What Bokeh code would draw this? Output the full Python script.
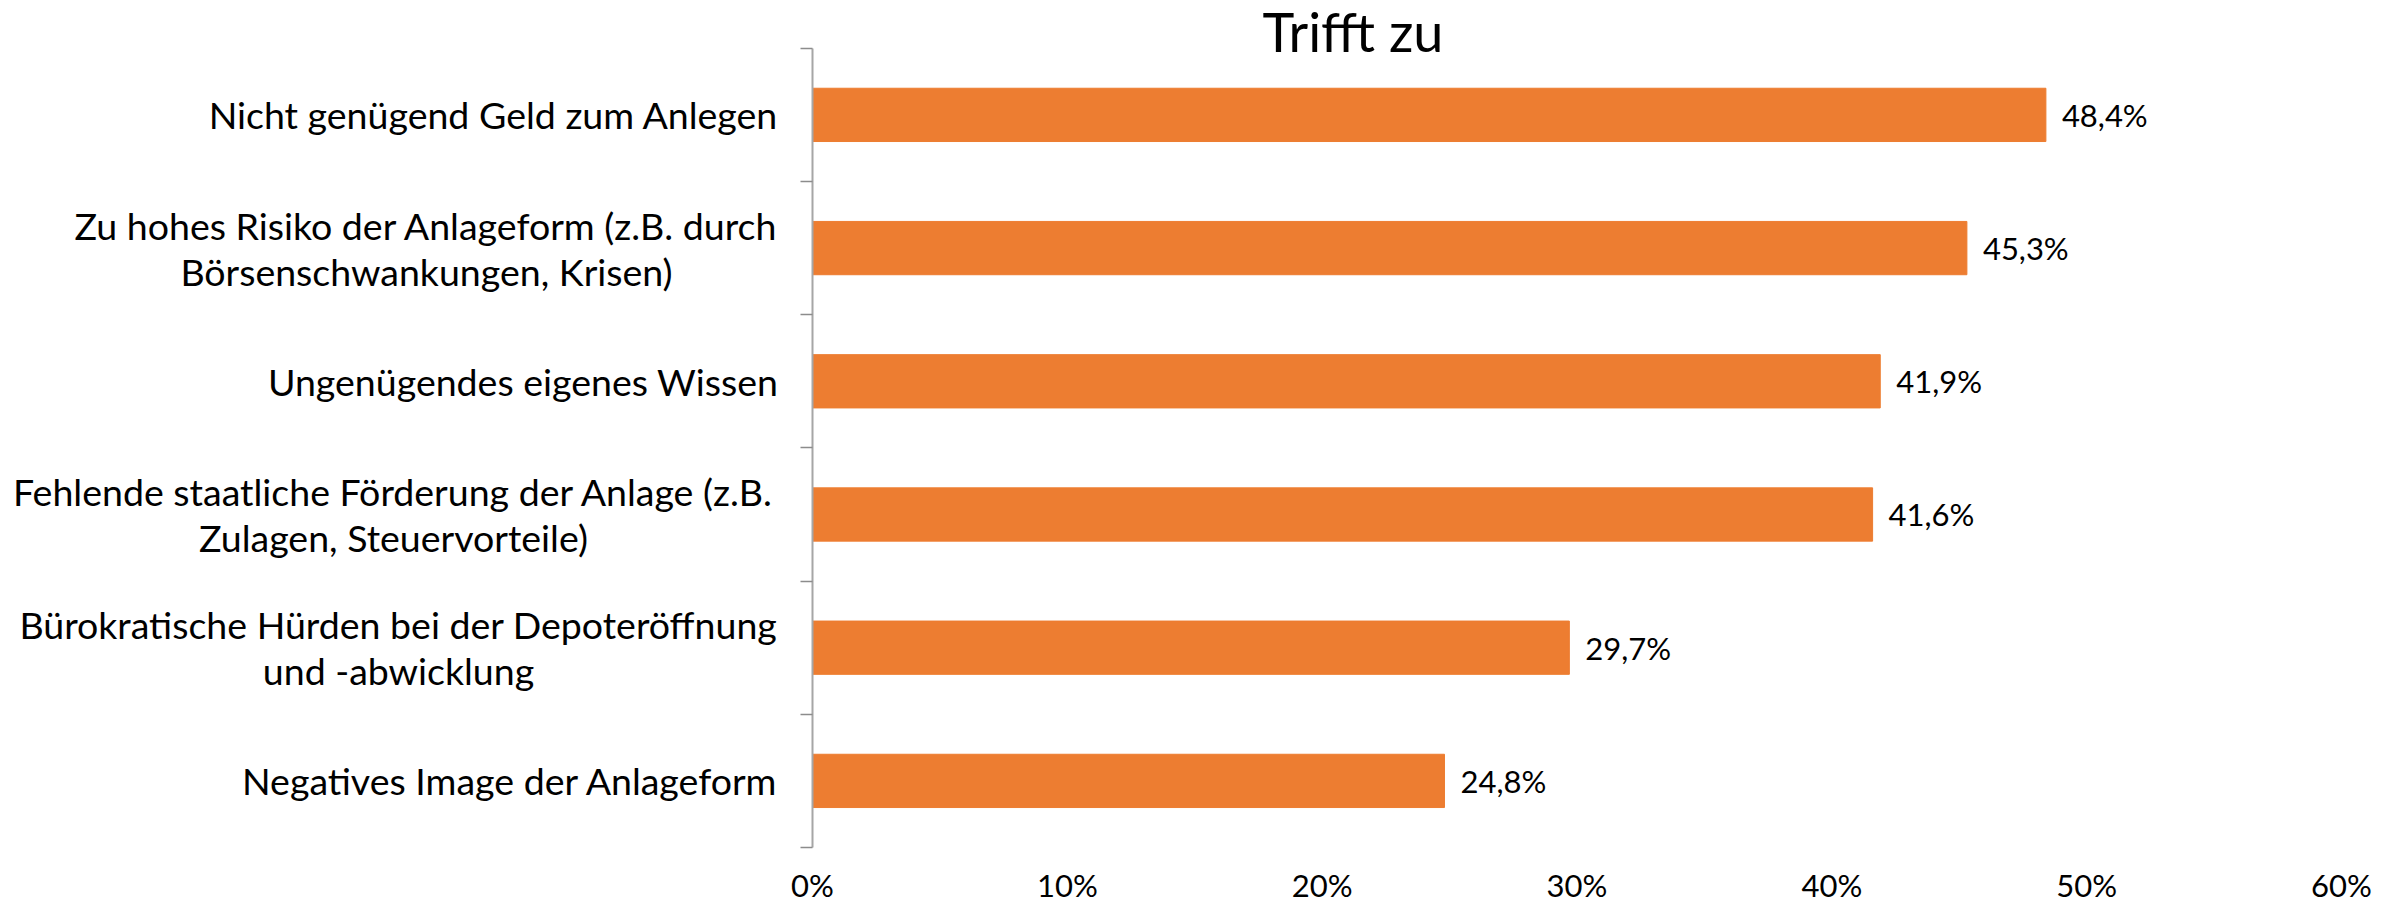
from bokeh.plotting import figure
from bokeh.models import Range1d, FixedTicker, PrintfTickFormatter, Label, ColumnDataSource
from bokeh.embed import file_html
from bokeh.resources import INLINE
from bokeh.core.properties import value

# ---------------- data ----------------
title_text = "Trifft zu"
categories = [
    "Nicht genügend Geld zum Anlegen",
    "Zu hohes Risiko der Anlageform (z.B. durch\nBörsenschwankungen, Krisen)",
    "Ungenügendes eigenes Wissen",
    "Fehlende staatliche Förderung der Anlage (z.B.\nZulagen, Steuervorteile)",
    "Bürokratische Hürden bei der Depoteröffnung\nund -abwicklung",
    "Negatives Image der Anlageform",
]
values = [48.4, 45.3, 41.9, 41.6, 29.7, 24.8]
x_ticks = [0, 10, 20, 30, 40, 50, 60]

# ---------------- layout (pixels) ----------------
W, H = 2399, 906
AXIS_X, AXIS_RIGHT = 812, 2341     # x pixel of 0% and 60%
AXIS_TOP, AXIS_BOTTOM = 48, 851    # y pixel of category band top / bottom
UNIT_Y = (AXIS_BOTTOM - AXIS_TOP) / len(categories)
UNIT_X = (AXIS_RIGHT - AXIS_X) / x_ticks[-1]
LABEL_RIGHT = -34                                  # right edge of one-line labels
WRAP_CENTER = {1: -386, 3: -419, 4: -414}          # centre of wrapped labels
TITLE_X, TITLE_Y = 1352.5, 31                      # title centre

FONT = "Lato"
ORANGE = "#ED7D31"
GRAY = "#A6A6A6"
TICK_GRAY = "#8C8C8C"

n = len(categories)
ys = [n - 0.5 - i for i in range(n)]
src = ColumnDataSource(dict(
    y=ys,
    v=values,
    lbl=[("%.1f" % v).replace(".", ",") + "%" for v in values],
))
cat_src = ColumnDataSource(dict(
    y=ys,
    x=[0] * n,
    text=categories,
    xo=[WRAP_CENTER.get(i, LABEL_RIGHT) for i in range(n)],
    align=["center" if i in WRAP_CENTER else "right" for i in range(n)],
))

y_top = n + AXIS_TOP / UNIT_Y   # frame reaches the top of the canvas
p = figure(width=W, height=H, output_backend="svg", toolbar_location=None,
           x_range=Range1d(x_ticks[0], x_ticks[-1]), y_range=Range1d(0, y_top),
           min_border_left=AXIS_X, min_border_right=W - AXIS_RIGHT,
           min_border_top=0, min_border_bottom=H - AXIS_BOTTOM)
p.outline_line_color = None
p.xgrid.grid_line_color = None
p.ygrid.grid_line_color = None
p.background_fill_color = "white"
p.border_fill_color = "white"

p.hbar(y="y", left=0, right="v", height=0.4, source=src,
       fill_color=ORANGE, line_color=ORANGE)

p.text(x="v", y="y", text="lbl", source=src, x_offset=16,
       text_font=value(FONT), text_font_size="31px", text_color="black",
       text_align="left", text_baseline="middle")

# category labels (drawn unclipped next to the axis)
p.text(x="x", y="y", text="text", source=cat_src, x_offset="xo",
       text_align="align", text_baseline="middle",
       text_font=value(FONT), text_font_size="37.5px", text_color="black",
       text_line_height=1.02, level="overlay")

# x axis
xa = p.xaxis[0]
xa.ticker = FixedTicker(ticks=x_ticks)
xa.formatter = PrintfTickFormatter(format="%d%%")
xa.axis_line_color = None
xa.major_tick_line_color = None
xa.major_tick_in = 0
xa.major_tick_out = 0
xa.minor_tick_line_color = None
xa.major_label_text_font = FONT
xa.major_label_text_font_size = "31px"
xa.major_label_text_color = "black"
xa.major_label_standoff = 18

# y axis: tick marks at band boundaries, no labels
ya = p.yaxis[0]
ya.bounds = (0, n)
ya.ticker = FixedTicker(ticks=list(range(n + 1)))
ya.major_label_text_font_size = "0px"
ya.major_label_text_color = None
ya.axis_line_color = GRAY
ya.axis_line_width = 2
ya.major_tick_line_color = TICK_GRAY
ya.major_tick_line_width = 1.5
ya.major_tick_in = 0
ya.major_tick_out = 12
ya.minor_tick_line_color = None

# title
p.add_layout(Label(x=(TITLE_X - AXIS_X) / UNIT_X, y=n + (AXIS_TOP - TITLE_Y) / UNIT_Y,
                   text=title_text, text_font=FONT, text_font_size="54px",
                   text_color="black", text_align="center", text_baseline="middle"))

open("out.html", "w").write(file_html(p, INLINE))
